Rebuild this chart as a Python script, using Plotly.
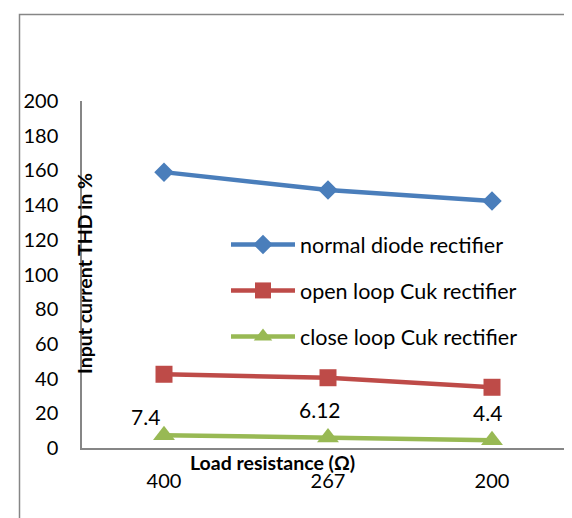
import plotly.graph_objects as go

categories = ["400", "267", "200"]
normal_diode = [159, 148.7, 142.3]
open_loop_cuk = [42.5, 40.5, 35]
close_loop_cuk = [7.4, 6.12, 4.4]
y_ticks = [0, 20, 40, 60, 80, 100, 120, 140, 160, 180, 200]

FONT = "Lato"
W, H = 572, 518
L, R, T, B = 74, 6, 93, 78
pw, ph = W - L - R, H - T - B

def px_x(px):
    return (px - L) / pw

def px_y(py):
    return (H - B - py) / ph

fig = go.Figure()
fig.add_trace(go.Scatter(x=categories, y=normal_diode, mode="lines+markers",
                         name="normal diode rectifier", legendgroup="a",
                         line=dict(color="#4A7EBB", width=4.5),
                         marker=dict(symbol="diamond", size=15, color="#4A7EBB")))
fig.add_trace(go.Scatter(x=categories, y=open_loop_cuk, mode="lines+markers",
                         name="open loop Cuk rectifier", legendgroup="b",
                         line=dict(color="#BE4B48", width=4.5),
                         marker=dict(symbol="square", size=17, color="#BE4B48")))
fig.add_trace(go.Scatter(x=categories, y=close_loop_cuk, mode="lines+markers",
                         name="close loop Cuk rectifier", legendgroup="c",
                         line=dict(color="#98B954", width=4.5),
                         marker=dict(symbol="triangle-up", size=19, color="#98B954")))

shifts = [(-19, 19), (-8, 28), (-5, 28)]
for i, (v, (dx, dy)) in enumerate(zip(close_loop_cuk, shifts)):
    fig.add_annotation(x=i, y=v, xref="x", yref="y", text=str(v), showarrow=False,
                       xanchor="center", yanchor="middle",
                       xshift=dx, yshift=dy, font=dict(family=FONT, size=21, color="#000000"))

fig.add_annotation(x=px_x(76), y=px_y(266), xref="paper", yref="paper",
                   xanchor="center", yanchor="middle",
                   text="<b>Input current THD in %</b>", textangle=-90, showarrow=False,
                   font=dict(family=FONT, size=19.5, color="#000000"))
fig.add_annotation(x=px_x(264), y=px_y(454), xref="paper", yref="paper",
                   xanchor="center", yanchor="middle",
                   text="<b>Load resistance (Ω)</b>", showarrow=False,
                   font=dict(family=FONT, size=19.5, color="#000000"))

fig.add_shape(type="rect", xref="paper", yref="paper",
              x0=px_x(11.5), x1=px_x(600), y0=px_y(600), y1=px_y(6.5),
              line=dict(color="#868686", width=1.5), fillcolor="rgba(0,0,0,0)", layer="below")

fig.update_layout(
    width=W, height=H,
    margin=dict(l=L, r=R, t=T, b=B),
    paper_bgcolor="white", plot_bgcolor="white",
    font=dict(family=FONT, size=20, color="#000000"),
    showlegend=True,
    legend=dict(x=px_x(218), y=px_y(216), xanchor="left", yanchor="top",
                bgcolor="rgba(0,0,0,0)", tracegroupgap=15, itemwidth=64,
                font=dict(family=FONT, size=21.5, color="#000000")),
    xaxis=dict(type="category", range=[-0.5, 2.5], showgrid=False, zeroline=False,
               showline=True, linecolor="#868686", linewidth=1.5, ticks="",
               ticklabelstandoff=14, tickfont=dict(family=FONT, size=20)),
    yaxis=dict(range=[0, 200], tickvals=y_ticks, showgrid=False, zeroline=False,
               showline=True, linecolor="#868686", linewidth=1.5, ticks="",
               ticklabelstandoff=18, tickfont=dict(family=FONT, size=20)),
)

fig.write_html("out.html")
